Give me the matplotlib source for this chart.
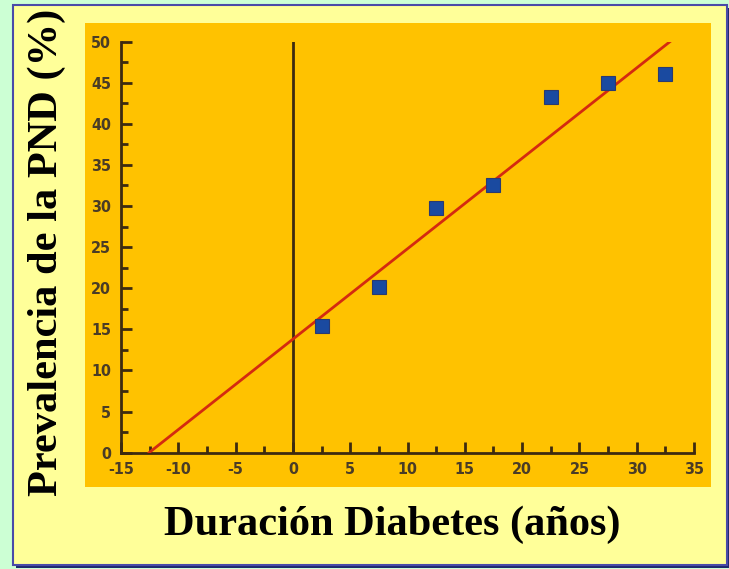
import matplotlib

matplotlib.use("Agg")

import matplotlib.pyplot as plt
from matplotlib.patches import Rectangle
from matplotlib.ticker import MultipleLocator

plt.rcParams["axes.unicode_minus"] = False

# Datos: duración de la diabetes (años) y prevalencia de PND (%)
duracion = [2.5, 7.5, 12.5, 17.5, 22.5, 27.5, 32.5]
prevalencia = [15.4, 20.2, 29.7, 32.5, 43.2, 45.0, 46.1]

# Recta de regresión
pendiente = 1.1
ordenada = 13.8

fig = plt.figure(figsize=(7.29, 5.69), dpi=100)
fig.patch.set_facecolor("#ccffd4")

# Panel amarillo con borde azul y sombra
fig.add_artist(Rectangle((16 / 729, 1 - 568 / 569), 714 / 729, 560 / 569,
                         transform=fig.transFigure, facecolor="#1f2a6e",
                         edgecolor="none", zorder=0))
fig.add_artist(Rectangle((13 / 729, 1 - 565 / 569), 714 / 729, 560 / 569,
                         transform=fig.transFigure, facecolor="#ffff99",
                         edgecolor="#4a4aa8", linewidth=1.5, zorder=0))
# Zona naranja del gráfico
fig.add_artist(Rectangle((85 / 729, 1 - 487 / 569), 626 / 729, 464 / 569,
                         transform=fig.transFigure, facecolor="#ffc200",
                         edgecolor="none", zorder=0))

ax = fig.add_axes([121 / 729, 1 - 452.6 / 569, 573 / 729, 411 / 569])
ax.patch.set_alpha(0)

color_eje = "#3d2a10"
ax.set_xlim(-15, 35)
ax.set_ylim(0, 50)
for lado in ["top", "right"]:
    ax.spines[lado].set_visible(False)
for lado in ["left", "bottom"]:
    ax.spines[lado].set_color(color_eje)
    ax.spines[lado].set_linewidth(2)

ax.xaxis.set_major_locator(MultipleLocator(5))
ax.xaxis.set_minor_locator(MultipleLocator(2.5))
ax.yaxis.set_major_locator(MultipleLocator(5))
ax.yaxis.set_minor_locator(MultipleLocator(2.5))
ax.tick_params(which="major", direction="in", length=8, width=2,
               color=color_eje, labelcolor="#4a3c26", pad=7)
ax.tick_params(which="minor", direction="in", length=5, width=2,
               color=color_eje)
for lbl in ax.get_xticklabels() + ax.get_yticklabels():
    lbl.set_family("DejaVu Sans")
    lbl.set_stretch("condensed")
    lbl.set_fontweight("bold")
    lbl.set_fontsize(11.5)

# Línea vertical en x = 0
ax.plot([0, 0], [0, 50], color=color_eje, linewidth=2, zorder=2)

# Recta de regresión (de y = 0 a y = 50)
x0 = (0 - ordenada) / pendiente
x1 = (50 - ordenada) / pendiente
ax.plot([x0, x1], [0, 50], color="#d42a10", linewidth=2, zorder=3)

ax.plot(duracion, prevalencia, linestyle="none", marker="s", markersize=10,
        markerfacecolor="#1a4aa0", markeredgecolor="#2a3a70",
        markeredgewidth=0.8, zorder=4, clip_on=False)

fig.text(47 / 729, 1 - 252 / 569, "Prevalencia de la PND (%)",
         rotation=90, ha="center", va="center", fontsize=30.5,
         fontweight="bold", family="Liberation Serif", color="black")
fig.text(392 / 729, 1 - 525 / 569, "Duración Diabetes (años)",
         ha="center", va="center", fontsize=30.5, fontweight="bold",
         family="Liberation Serif", color="black")

fig.savefig("out.png", dpi=100, facecolor=fig.get_facecolor())
